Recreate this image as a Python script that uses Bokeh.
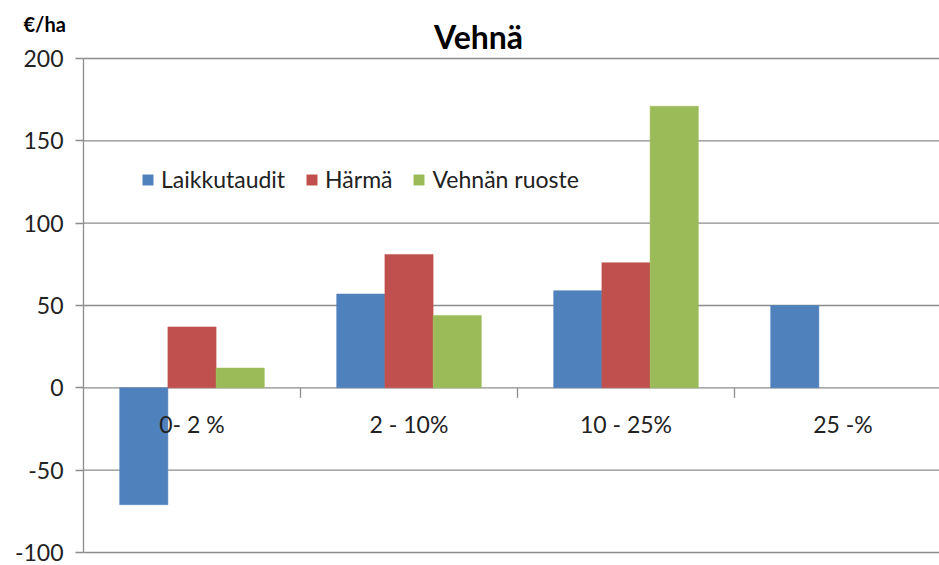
from bokeh.plotting import figure
from bokeh.models import Range1d, FixedTicker, ColumnDataSource
from bokeh.core.properties import value
from bokeh.embed import file_html
from bokeh.resources import INLINE

categories = ["0- 2 %", "2 - 10%", "10 - 25%", "25 -%"]
series_names = ["Laikkutaudit", "Härmä", "Vehnän ruoste"]
laikkutaudit = [-71, 57, 59, 50]
harma = [37, 81, 76, None]
ruoste = [12, 44, 171, None]
colors = ["#4F81BD", "#C0504D", "#9BBB59"]
y_ticks = [-100, -50, 0, 50, 100, 150, 200]
chart_title = "Vehnä"
unit_label = "€/ha"

FONT = "Lato"
TXT = "#222222"
GRID = "#8C8C8C"

# page layout (pixels)
W, H = 939, 565
PLOT_LEFT, PLOT_TOP, PLOT_BOTTOM = 83, 58, 552
CAT_PX = 217
y_lo, y_hi = y_ticks[0], y_ticks[-1]
px_per_unit = (PLOT_BOTTOM - PLOT_TOP) / (y_hi - y_lo)

x_start = -PLOT_LEFT / CAT_PX
x_end = (W - PLOT_LEFT) / CAT_PX
y_start = y_lo - (H - PLOT_BOTTOM) / px_per_unit
y_end = y_hi + PLOT_TOP / px_per_unit

p = figure(width=W, height=H, output_backend="svg", toolbar_location=None,
           x_range=Range1d(x_start, x_end), y_range=Range1d(y_start, y_end),
           min_border_left=0, min_border_right=0, min_border_top=0, min_border_bottom=0)
p.outline_line_color = None
p.xaxis.visible = False
p.xgrid.visible = False
p.ygrid.visible = False

# horizontal gridlines from the value axis to the right edge
p.segment(x0=[0] * len(y_ticks), x1=[x_end] * len(y_ticks), y0=y_ticks, y1=y_ticks,
          line_color=GRID, line_width=1.3)

ax = p.yaxis[0]
ax.fixed_location = 0
ax.bounds = (y_lo, y_hi)
ax.ticker = FixedTicker(ticks=y_ticks)
ax.major_label_overrides = {t: str(t) for t in y_ticks}
ax.axis_line_color = GRID
ax.axis_line_width = 1.3
ax.major_tick_line_color = GRID
ax.major_tick_line_width = 1.3
ax.major_tick_out = 8
ax.major_tick_in = 0
ax.minor_tick_line_color = None
ax.major_label_standoff = 12
ax.major_label_text_font = FONT
ax.major_label_text_font_size = "23px"
ax.major_label_text_color = TXT

bw = 1 / 4.5
n = len(categories)
centers = [i + 0.5 for i in range(n)]
all_series = [laikkutaudit, harma, ruoste]
for k, (name, vals, col) in enumerate(zip(series_names, all_series, colors)):
    xs, tops = [], []
    for c, v in zip(centers, vals):
        if v is not None:
            xs.append(c + (k - 1) * bw)
            tops.append(v)
    src = ColumnDataSource(dict(x=xs, top=tops))
    p.vbar(x="x", top="top", bottom=0, width=bw, source=src, fill_color=col,
           line_color=col, line_width=0.5, legend_label=name)

# category axis along zero with ticks between categories
bounds = [i for i in range(1, n)]
p.segment(x0=bounds, y0=[0] * len(bounds), x1=bounds, y1=[-10 / px_per_unit] * len(bounds),
          line_color=GRID, line_width=1.3)
p.text(x=centers, y=[0] * n, text=categories, y_offset=36, text_align="center",
       text_baseline="middle", text_font=value(FONT), text_font_size="23px", text_color=TXT)

# title and unit label, anchored at the top-left corner of the canvas
p.text(x=[x_start], y=[y_end], text=[chart_title], x_offset=478, y_offset=36,
       text_align="center", text_baseline="alphabetic", text_font=value(FONT),
       text_font_size="32px", text_font_style="bold", text_color="#000000")
p.text(x=[x_start], y=[y_end], text=[unit_label], x_offset=23, y_offset=23,
       text_align="left", text_baseline="alphabetic", text_font=value(FONT),
       text_font_size="20px", text_font_style="bold", text_color="#000000")

lg = p.legend[0]
lg.orientation = "horizontal"
lg.location = (141, 372)
lg.padding = 0
lg.margin = 0
lg.spacing = 20
lg.glyph_width = 13
lg.glyph_height = 13
lg.label_standoff = 7
lg.label_height = 26
lg.label_text_font = FONT
lg.label_text_font_size = "23px"
lg.label_text_color = TXT
lg.border_line_color = None
lg.background_fill_alpha = 0

open("out.html", "w").write(file_html(p, INLINE))
